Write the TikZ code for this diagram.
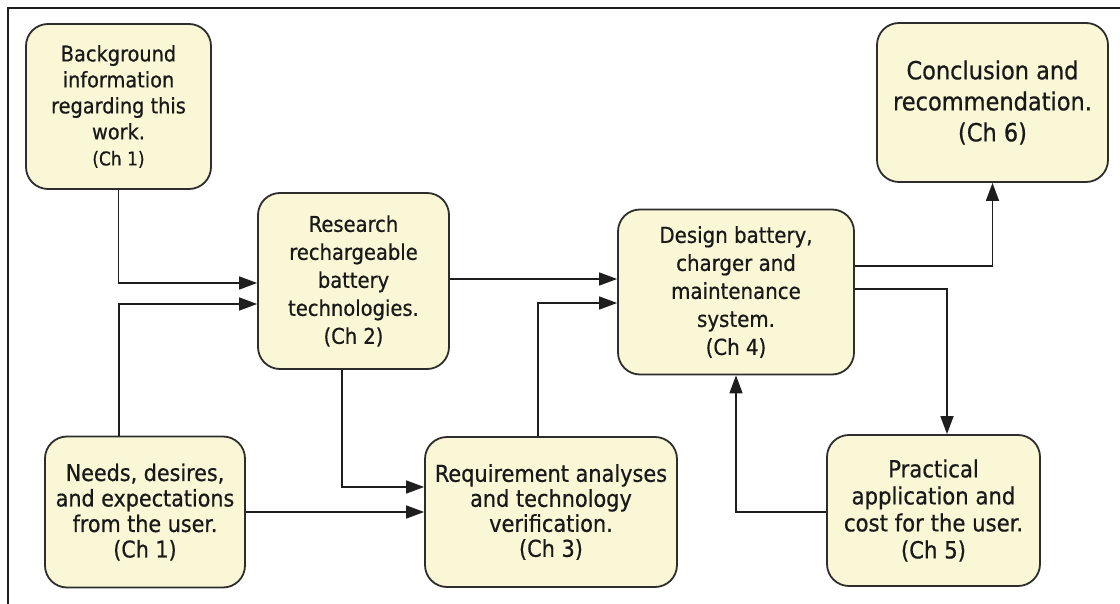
\documentclass[tikz,border=0pt]{standalone}
\usepackage{fontspec}
\setmainfont[FakeBold=0.6]{DejaVu Sans Condensed}
\usetikzlibrary{arrows.meta,calc}

\definecolor{boxfill}{RGB}{249,247,214}
\definecolor{boxline}{RGB}{45,45,45}
\definecolor{inkline}{RGB}{30,30,30}

\tikzset{
  chapbox/.style={draw=boxline, fill=boxfill, line width=1.8pt,
    rounded corners=22pt, inner sep=0pt, align=center, text=black!90},
  arr/.style={draw=inkline, line width=1.7pt,
    -{Triangle[length=18pt,width=13pt]}},
  frameline/.style={draw=inkline, line width=1.8pt}
}
\newcommand{\fs}[2]{\fontsize{#1}{#2}\selectfont}

\begin{document}
\begin{tikzpicture}[x=1pt,y=-1pt]
  \useasboundingbox (0,0) rectangle (1120,604);

  % outer frame (top and left edges)
  \draw[frameline] (8,604) -- (8,8) -- (1120,8);

  % chapter boxes
  \node[chapbox, minimum width=185pt, minimum height=165pt, font=\fs{21.5}{26}]
    (bg) at (118.5,106.5)
    {Background\\information\\regarding this\\work.\\{\fs{19}{26}(Ch 1)}};
  \node[chapbox, minimum width=191pt, minimum height=176pt, font=\fs{21.7}{28}]
    (res) at (353.5,281)
    {Research\\rechargeable\\battery\\technologies.\\(Ch 2)};
  \node[chapbox, minimum width=236pt, minimum height=165pt, font=\fs{22}{28}]
    (des) at (736,292)
    {Design battery,\\charger and\\maintenance\\system.\\(Ch 4)};
  \node[chapbox, minimum width=231pt, minimum height=159pt, font=\fs{25}{31}]
    (con) at (992.5,102.5)
    {Conclusion and\\recommendation.\\(Ch 6)};
  \node[chapbox, minimum width=213pt, minimum height=151pt, font=\fs{23.6}{27}]
    (pra) at (933.5,510.5)
    {Practical\\application and\\cost for the user.\\(Ch 5)};
  \node[chapbox, minimum width=200pt, minimum height=151pt, font=\fs{23}{25.5}]
    (need) at (145,512)
    {Needs, desires,\\and expectations\\from the user.\\(Ch 1)};
  \node[chapbox, minimum width=252pt, minimum height=150pt, font=\fs{23.2}{25}]
    (req) at (551,512)
    {Requirement analyses\\and technology\\verification.\\(Ch 3)};

  % connectors
  \draw[arr] (bg.south) |- (res.west |- 0,283);
  \draw[arr] (need.north -| 119,0) |- (res.west |- 0,304);
  \draw[arr] (res.east |- 0,279) -- (des.west |- 0,279);
  \draw[arr] (req.north -| 538,0) |- (des.west |- 0,303);
  \draw[arr] (res.south -| 342,0) |- (req.west |- 0,487);
  \draw[arr] (need.east |- 0,512) -- (req.west |- 0,512);
  \draw[arr] (des.east |- 0,266) -| (con.south);
  \draw[arr] (des.east |- 0,289) -| (pra.north -| 947,0);
  \draw[arr] (pra.west |- 0,512) -| (des.south);
\end{tikzpicture}
\end{document}
